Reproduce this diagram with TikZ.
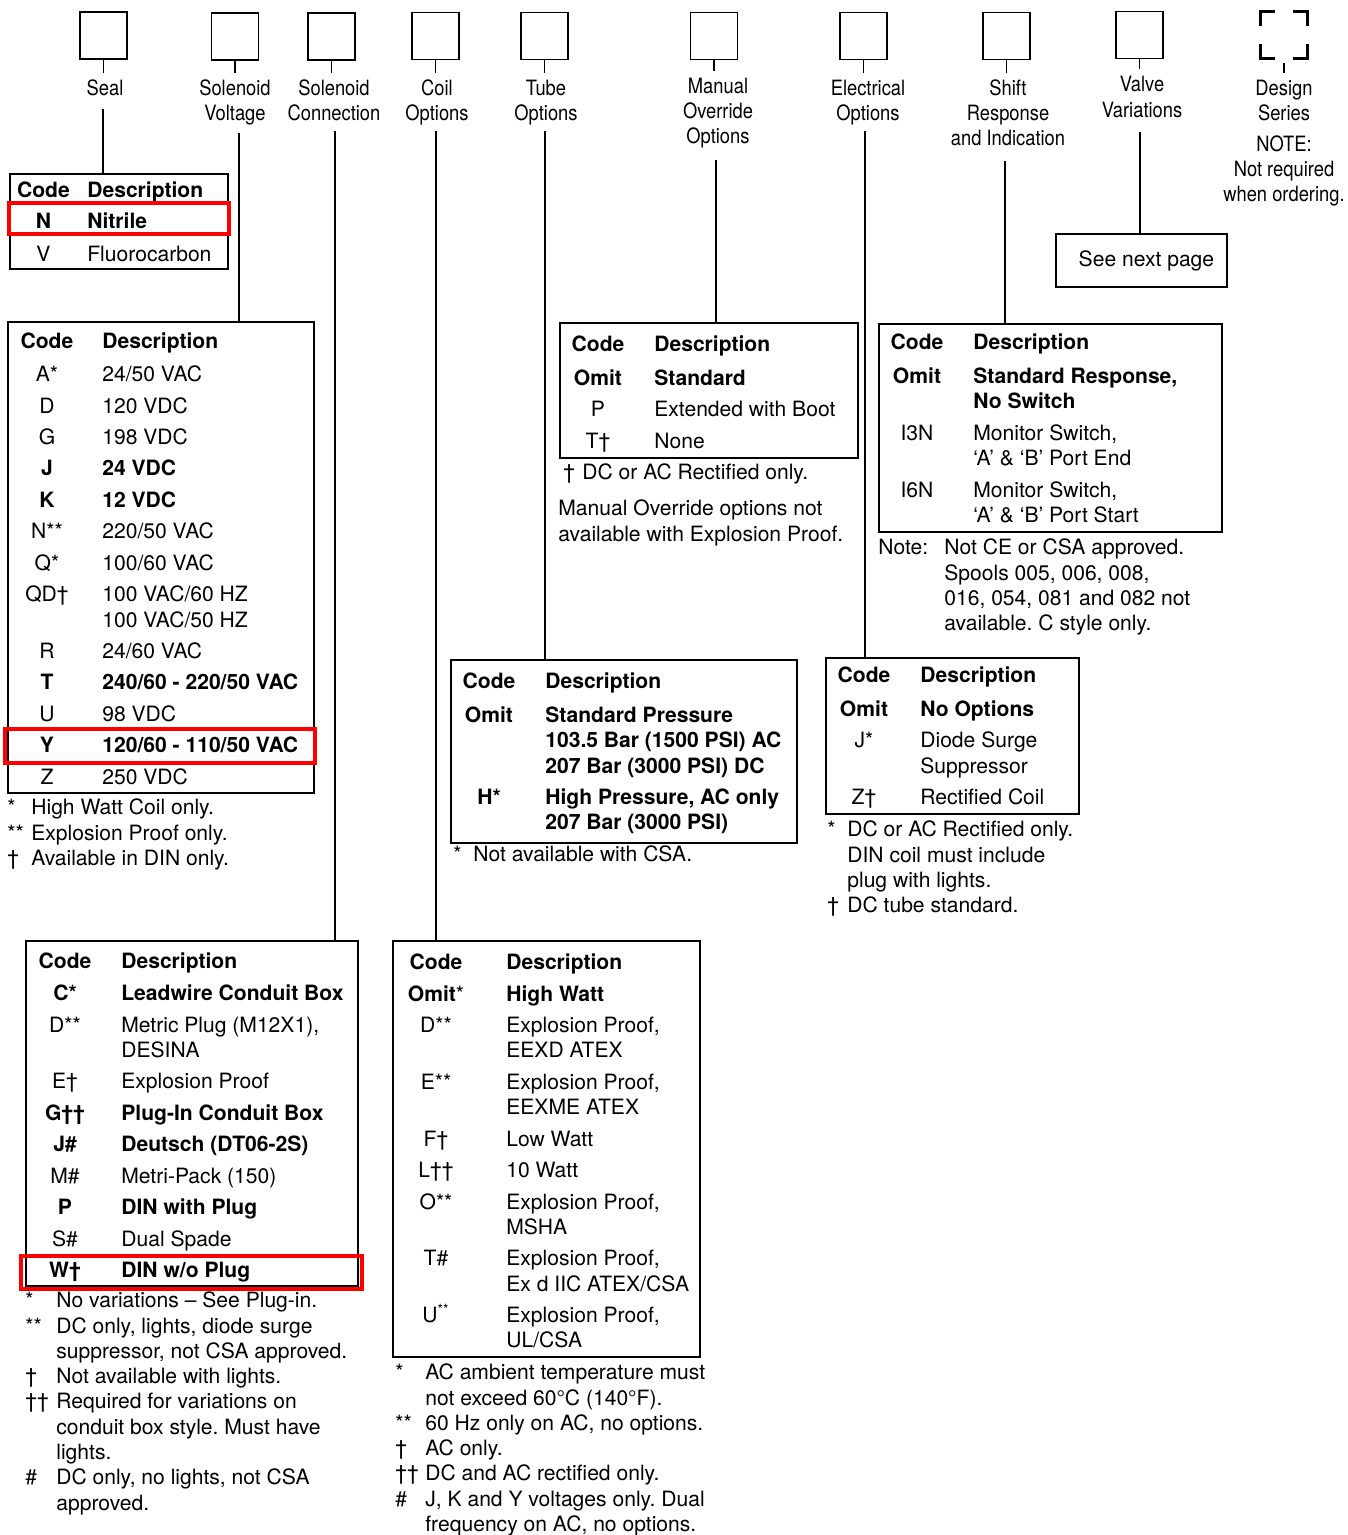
\documentclass[tikz,border=0pt]{standalone}
\usepackage{fontspec}
\setmainfont{TeX Gyre Heros}
\newfontfamily\condfont[FakeStretch=0.87]{TeX Gyre Heros}
\newcommand{\rs}{\\[3.5pt]}
\frenchspacing

\begin{document}
\begin{tikzpicture}[
  x=0.02cm, y=-0.02cm,
  txt/.style={font=\fontsize{12}{14.4}\selectfont, inner sep=0pt},
  sq/.style={draw, line width=1.1pt, minimum size=0.94cm, inner sep=0pt},
  cat/.style={font=\condfont\fontsize{12}{14.4}\selectfont, inner sep=0pt,
              align=center, anchor=north},
  tab/.style={draw, line width=1.1pt, inner sep=0pt, anchor=north west},
  codes/.style={txt, align=center, anchor=north},
  descs/.style={txt, align=left, anchor=north west},
  link/.style={line width=1.1pt},
  stem/.style={line width=1pt, shorten >=0.09cm},
  hilite/.style={draw=red, line width=2.3pt}
]
\useasboundingbox (0,0) rectangle (1347,1535);

\node[sq] (sqS) at (103.5,35.5) {};
\node[sq] (sqV) at (235,36.5) {};
\node[sq] (sqC) at (331.5,36.5) {};
\node[sq] (sqL) at (435.5,36) {};
\node[sq] (sqT) at (544.5,36) {};
\node[sq] (sqM) at (714,36) {};
\node[sq] (sqE) at (863.5,36) {};
\node[sq] (sqR) at (1006.5,36) {};
\node[sq] (sqX) at (1139.5,35) {};
\node[sq, line width=1.7pt, line cap=rect, dash pattern=on 0.52cm off 0.42cm,
      dash phase=0.26cm] (sqD) at (1284,35) {};

\node[cat] (lblS) at (105,77.2) {\strut Seal};
\node[cat] (lblV) at (235,77.2) {\strut Solenoid\\Voltage};
\node[cat] (lblC) at (334,77.2) {\strut Solenoid\\Connection};
\node[cat] (lblL) at (437,77.2) {\strut Coil\\Options};
\node[cat] (lblT) at (546,77.2) {\strut Tube\\Options};
\node[cat] (lblM) at (718,75.2) {\strut Manual\\Override\\Options};
\node[cat] (lblE) at (868,77.2) {\strut Electrical\\Options};
\node[cat] (lblR) at (1008,77.2) {\strut Shift\\Response\\and Indication};
\node[cat] (lblX) at (1142,73.7) {\strut Valve\\Variations};
\node[cat] (lblD) at (1284,77.2) {\strut Design\\Series\\[3pt]NOTE:\\Not required\\when ordering.};

\foreach \k in {S,V,C,L,T,M,E,R,X}
  \draw[stem] (sq\k.south) -- (sq\k.south |- lbl\k.north);
\draw[line width=0.6pt, shorten >=0.09cm] ([yshift=-0.06cm]sqD.south) -- (sqD.south |- lblD.north);

% seal
\node[tab, minimum width=4.36cm, minimum height=1.9cm] (tabS) at (9,173) {};
\node[codes] (codeS) at (43.5,179.7) {\strut\textbf{Code}\\[3.2pt]\textbf{N}\\[4.3pt]V};
\node[descs] (descS) at (87,179.7) {\strut\textbf{Description}\\[3.2pt]\textbf{Nitrile}\\[4.3pt]Fluorocarbon};
\draw[hilite] (9,203) rectangle (229,234);

% solenoid voltage
\node[tab, minimum width=6.12cm, minimum height=9.42cm] (tabV) at (7,321) {};
\node[codes] (codeV) at (47,330.7) {\strut\textbf{Code}\\[4.3pt]A*\rs D\rs G\rs \textbf{J}\rs
  \textbf{K}\rs N**\rs Q*\rs QD†\\\mbox{}\rs R\rs \textbf{T}\rs U\rs \textbf{Y}\rs Z};
\node[descs] (descV) at (102,330.7) {\strut\textbf{Description}\\[4.3pt]24/50 VAC\rs 120 VDC\rs
  198 VDC\rs \textbf{24 VDC}\rs \textbf{12 VDC}\rs 220/50 VAC\rs 100/60 VAC\rs
  100 VAC/60 HZ\\100 VAC/50 HZ\rs 24/60 VAC\rs \textbf{240/60 - 220/50 VAC}\rs 98 VDC\rs
  \textbf{120/60 - 110/50 VAC}\rs 250 VDC};
\draw[hilite] (5,729) rectangle (315,763);
\node[descs] (fsymV) at (7,796.7) {\strut *\\{}**\\†};
\node[descs] (fnV) at (31,796.7) {\strut High Watt Coil only.\\Explosion Proof only.\\Available in DIN only.};

% solenoid connection
\node[tab, minimum width=6.64cm, minimum height=6.9cm] (tabC) at (25,940) {};
\node[codes] (codeC) at (65,950.7) {\strut\textbf{Code}\\[3.7pt]\textbf{C*}\rs D**\\\mbox{}\rs E†\rs
  \textbf{G††}\rs \textbf{J\#}\rs M\#\rs \textbf{P}\rs S\#\rs \textbf{W†}};
\node[descs] (descC) at (121,950.7) {\strut\textbf{Description}\\[3.7pt]\textbf{Leadwire Conduit Box}\rs
  Metric Plug (M12X1),\\DESINA\rs Explosion Proof\rs \textbf{Plug-In Conduit Box}\rs
  \textbf{Deutsch (DT06-2S)}\rs Metri-Pack (150)\rs \textbf{DIN with Plug}\rs Dual Spade\rs
  \textbf{DIN w/o Plug}};
\draw[hilite] (21,1256) rectangle (362,1289);
\node[descs] (fsymC) at (25,1289.7) {\strut *\\{}**\\\mbox{}\\†\\††\\\mbox{}\\\mbox{}\\\#};
\node[descs] (fnC) at (56,1289.7) {\strut No variations -- See Plug-in.\\DC only, lights, diode surge\\
  suppressor, not CSA approved.\\Not available with lights.\\Required for variations on\\
  conduit box style. Must have\\lights.\\DC only, no lights, not CSA\\approved.};

% coil options
\node[tab, minimum width=6.14cm, minimum height=8.32cm] (tabL) at (392,940) {};
\node[codes] (codeL) at (436,951.7) {\strut\textbf{Code}\rs \textbf{Omit}*\rs D**\\\mbox{}\rs
  E**\\\mbox{}\rs F†\rs L††\rs O**\\\mbox{}\rs T\#\\\mbox{}\rs U\textsuperscript{**}};
\node[descs] (descL) at (506,951.7) {\strut\textbf{Description}\rs \textbf{High Watt}\rs
  Explosion Proof,\\EEXD ATEX\rs Explosion Proof,\\EEXME ATEX\rs Low Watt\rs 10 Watt\rs
  Explosion Proof,\\MSHA\rs Explosion Proof,\\Ex d IIC ATEX/CSA\rs Explosion Proof,\\UL/CSA};
\node[descs] (fsymL) at (395,1361.7) {\strut *\\\mbox{}\\{}**\\†\\††\\\#\\\mbox{}};
\node[descs] (fnL) at (425,1361.7) {\strut AC ambient temperature must\\not exceed 60°C (140°F).\\
  60 Hz only on AC, no options.\\AC only.\\DC and AC rectified only.\\
  J, K and Y voltages only. Dual\\frequency on AC, no options.};

% manual override
\node[tab, minimum width=5.96cm, minimum height=2.7cm] (tabM) at (559,322) {};
\node[codes] (codeM) at (598,333.7) {\strut\textbf{Code}\\[4.8pt]\textbf{Omit}\rs P\rs T†};
\node[descs] (descM) at (654,333.7) {\strut\textbf{Description}\\[4.8pt]\textbf{Standard}\rs
  Extended with Boot\rs None};
\node[descs] (fsymM) at (563,461.7) {\strut †};
\node[descs] (fnM) at (582,461.7) {\strut DC or AC Rectified only.};
\node[descs] (remM) at (558,497.7) {\strut Manual Override options not\\available with Explosion Proof.};

% shift response
\node[tab, minimum width=6.86cm, minimum height=4.16cm] (tabR) at (878,323) {};
\node[codes] (codeR) at (917,331.7) {\strut\textbf{Code}\\[4.8pt]\textbf{Omit}\\\mbox{}\rs
  I3N\\\mbox{}\rs I6N};
\node[descs] (descR) at (973,331.7) {\strut\textbf{Description}\\[4.8pt]\textbf{Standard Response,}\\
  \textbf{No Switch}\rs Monitor Switch,\\‘A’ \& ‘B’ Port End\rs Monitor Switch,\\
  ‘A’ \& ‘B’ Port Start};
\node[descs] (noteR) at (878,536.7) {\strut Note:};
\node[descs] (fnR) at (944,536.7) {\strut Not CE or CSA approved.\\Spools 005, 006, 008,\\
  016, 054, 081 and 082 not\\available. C style only.};

% tube options
\node[tab, minimum width=6.92cm, minimum height=3.66cm] (tabT) at (450,659) {};
\node[codes] (codeT) at (489,670.7) {\strut\textbf{Code}\\[4.8pt]\textbf{Omit}\\\mbox{}\\\mbox{}\rs
  \textbf{H*}};
\node[descs] (descT) at (545,670.7) {\strut\textbf{Description}\\[4.8pt]\textbf{Standard Pressure}\\
  \textbf{103.5 Bar (1500 PSI) AC}\\\textbf{207 Bar (3000 PSI) DC}\rs
  \textbf{High Pressure, AC only}\\\textbf{207 Bar (3000 PSI)}};
\node[descs] (fsymT) at (453,843.7) {\strut *};
\node[descs] (fnT) at (473,843.7) {\strut Not available with CSA.};

% electrical options
\node[tab, minimum width=5.06cm, minimum height=3.12cm] (tabE) at (825,657) {};
\node[codes] (codeE) at (864,664.7) {\strut\textbf{Code}\\[4.8pt]\textbf{Omit}\rs J*\\\mbox{}\rs Z†};
\node[descs] (descE) at (920,664.7) {\strut\textbf{Description}\\[4.8pt]\textbf{No Options}\rs
  Diode Surge\\Suppressor\rs Rectified Coil};
\node[descs] (fsymE) at (827,818.7) {\strut *\\\mbox{}\\\mbox{}\\†};
\node[descs] (fnE) at (847,818.7) {\strut DC or AC Rectified only.\\DIN coil must include\\
  plug with lights.\\DC tube standard.};

% valve variations
\node[tab, txt, minimum width=3.42cm, minimum height=1.06cm] (tabX) at (1055,233)
  {\hspace{0.2cm}See next page};

\foreach \k/\s/\d in {S/-0.11/-0.04, V/-0.15/0.08, C/-0.2/0.02, L/-0.11/-0.02, T/-0.11/-0.02,
                      M/-0.23/-0.04, E/-0.11/-0.06, R/-0.29/-0.06, X/-0.28/-0.04}
  \draw[link] ([xshift=\d cm, yshift=\s cm]lbl\k.south) -- ([xshift=\d cm]lbl\k.south |- tab\k.north);

\end{tikzpicture}
\end{document}
